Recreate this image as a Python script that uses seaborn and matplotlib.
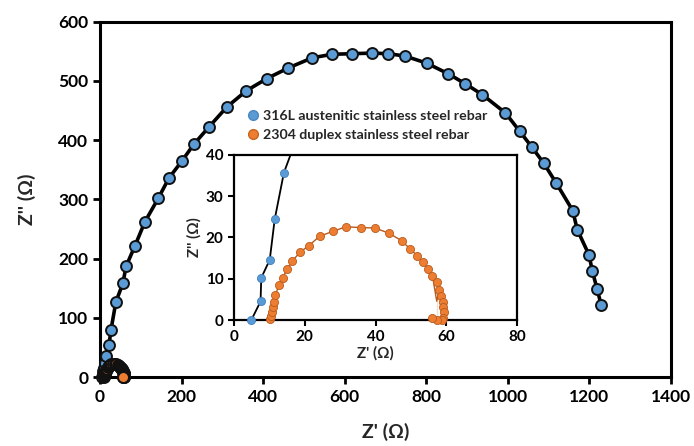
import numpy as np
import pandas as pd
import matplotlib
matplotlib.use("Agg")
import matplotlib.pyplot as plt
import seaborn as sns
from matplotlib.lines import Line2D

# Nyquist data (Z' , Z'' in ohm)
blue_x = [4.9, 7.5, 7.7, 10.1, 11.5, 14.1, 22, 27, 39, 56, 64, 86, 110, 143, 169, 200,
          230, 268, 311, 358, 409, 462, 520, 569, 618, 667, 707, 748, 801, 854, 896,
          937, 994, 1029, 1058, 1088, 1119, 1159, 1170, 1199, 1207, 1219, 1229]
blue_y = [0, 4.5, 10.2, 14.6, 24.4, 35.7, 54, 80, 127, 158, 187, 222, 262, 302, 336, 364,
          393, 423, 456, 483, 504, 522, 539, 545, 546, 547, 546, 542, 530, 512, 495,
          477, 446, 415, 389, 361, 327, 281, 249, 206, 179, 148, 121]

orange_x = [10.3, 10.5, 10.7, 10.9, 11.3, 11.7, 12.7, 13.8, 15.0, 16.4, 18.6, 21.1, 24.2,
            28.0, 31.6, 36.0, 39.9, 43.9, 47.4, 49.8, 51.8, 53.3, 54.9, 56.1, 57.3, 58.0,
            58.5, 59.0, 59.2, 59.3, 59.2, 58.7, 57.3, 55.9]
orange_y = [0.2, 1.0, 1.9, 3.1, 4.3, 6.0, 8.5, 10.3, 12.3, 14.2, 16.4, 18.0, 20.3,
            21.5, 22.6, 22.4, 22.3, 21.0, 19.2, 17.2, 15.6, 14.0, 12.3, 10.7, 9.1, 7.3,
            5.9, 4.3, 3.1, 1.9, 0.6, 0.0, 0.0, 0.5]

labels = ["316L austenitic stainless steel rebar", "2304 duplex stainless steel rebar"]
BLUE = "#5B9BD5"
ORANGE = "#ED7D31"

sns.set_theme(style="ticks")
plt.rcParams["font.family"] = ["Lato", "DejaVu Sans"]
plt.rcParams["font.weight"] = "bold"
plt.rcParams["axes.labelweight"] = "bold"

blue = pd.DataFrame({"x": blue_x, "y": blue_y})
orange = pd.DataFrame({"x": orange_x, "y": orange_y})

fig = plt.figure(figsize=(6.94, 4.46), dpi=100)
ax = fig.add_axes([0.1441, 0.1547, 0.8228, 0.7966])

# main plot
sns.lineplot(data=blue, x="x", y="y", sort=False, color="black", lw=2.6, ax=ax)
sns.scatterplot(data=blue, x="x", y="y", color=BLUE, edgecolor="#111111", linewidth=1.4,
                s=62, ax=ax, clip_on=False, zorder=3)
sns.lineplot(data=orange, x="x", y="y", sort=False, color="black", lw=2.6, ax=ax)
sns.scatterplot(data=orange, x="x", y="y", color=ORANGE, edgecolor="#111111", linewidth=1.4,
                s=62, ax=ax, clip_on=False, zorder=4)

ax.set_xlim(0, 1400)
ax.set_ylim(0, 600)
ax.set_xticks(range(0, 1401, 200))
ax.set_yticks(range(0, 601, 100))
ax.set_xlabel("Z' (\u03a9)", fontsize=14, fontweight="bold", labelpad=13)
ax.set_ylabel("Z'' (\u03a9)", fontsize=14, fontweight="bold", labelpad=16)
ax.tick_params(labelsize=12.5, width=2, length=5, direction="out", colors="black")
for lab in ax.get_xticklabels() + ax.get_yticklabels():
    lab.set_fontweight("bold")
for sp in ax.spines.values():
    sp.set_visible(True)
    sp.set_linewidth(2.2)
    sp.set_color("black")

# legend above inset
handles = [Line2D([], [], marker="o", ls="", color=BLUE, markeredgecolor="#4a86c0",
                  markersize=7),
           Line2D([], [], marker="o", ls="", color=ORANGE, markeredgecolor="#c8641f",
                  markersize=7)]
fig.legend(handles, labels, loc="upper left", bbox_to_anchor=(0.346, 0.767),
           frameon=False, handletextpad=0.25, labelspacing=0.5, borderaxespad=0,
           handlelength=1.0, prop={"size": 10.2, "weight": "bold"})

# inset
ins = fig.add_axes([0.3372, 0.2825, 0.4078, 0.370])
mb = (blue["x"] <= 80) & (blue["y"] <= 40)
sns.lineplot(data=blue, x="x", y="y", sort=False, color="black", lw=1.3, ax=ins)
sns.scatterplot(data=blue[mb], x="x", y="y", color=BLUE, edgecolor="#3f7fbf", linewidth=0.6,
                s=34, ax=ins, clip_on=False, zorder=3)
sns.lineplot(data=orange, x="x", y="y", sort=False, color="#b85a1c", lw=1.0, ax=ins)
sns.scatterplot(data=orange, x="x", y="y", color=ORANGE, edgecolor="#b85a1c", linewidth=0.6,
                s=34, ax=ins, clip_on=False, zorder=3)
ins.set_xlim(0, 80)
ins.set_ylim(0, 40)
ins.set_xticks([0, 20, 40, 60, 80])
ins.set_yticks([0, 10, 20, 30, 40])
ins.set_xlabel("Z' (\u03a9)", fontsize=11, fontweight="bold", labelpad=1)
ins.set_ylabel("Z'' (\u03a9)", fontsize=11, fontweight="bold", labelpad=3)
ins.tick_params(labelsize=11, width=1.5, length=4, direction="out", colors="black")
for lab in ins.get_xticklabels() + ins.get_yticklabels():
    lab.set_fontweight("bold")
for sp in ins.spines.values():
    sp.set_visible(True)
    sp.set_linewidth(1.6)
    sp.set_color("black")
ins.set_facecolor("white")

fig.savefig("out.png", dpi=100)
